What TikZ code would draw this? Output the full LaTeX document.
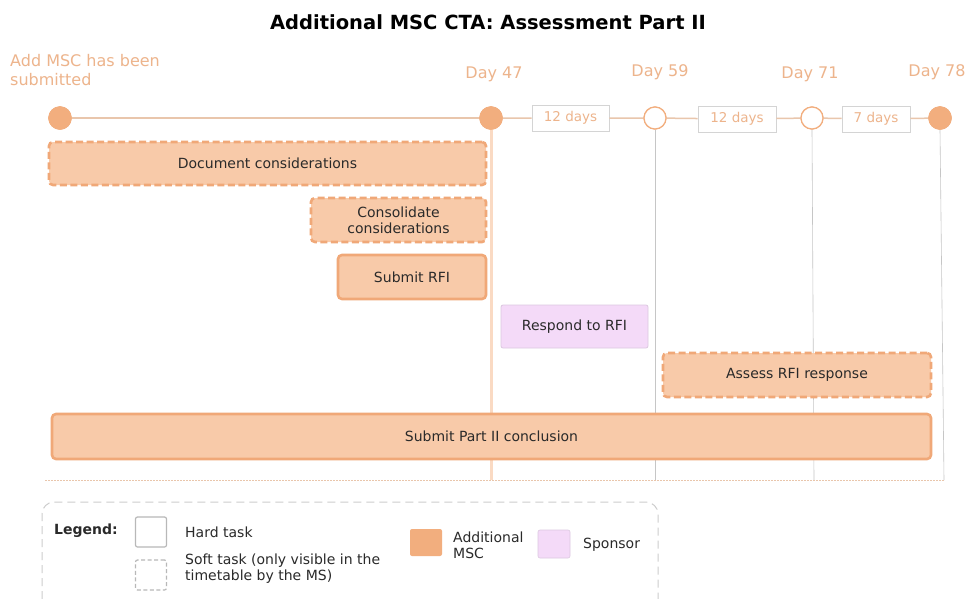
\documentclass[tikz,border=0pt]{standalone}
\usepackage{fontspec}
\setmainfont{DejaVu Sans}
\usetikzlibrary{positioning}
\definecolor{orT}{HTML}{EDB48C}
\definecolor{orF}{HTML}{F8CAA9}
\definecolor{orB}{HTML}{F0A878}
\definecolor{orD}{HTML}{F2AE7E}
\definecolor{tl}{HTML}{E9C6AC}
\definecolor{pkF}{HTML}{F4DAF8}
\definecolor{pkB}{HTML}{DCC8E0}
\definecolor{gr}{HTML}{B8B8B8}
\definecolor{txt}{HTML}{2A2A2A}
\tikzset{
  x=1pt,y=-1pt,
  task/.style={draw=orB,fill=orF,line width=2.6pt,rounded corners=4pt,inner sep=0pt,text=txt,font=\fontsize{14}{16}\selectfont,align=center},
  soft/.style={task,dash pattern=on 7pt off 3.5pt},
  milef/.style={circle,fill=orD,draw=orD,minimum size=23pt,inner sep=0pt},
  mileo/.style={circle,fill=white,draw=orD,line width=1.2pt,minimum size=22pt,inner sep=0pt},
  daybox/.style={draw=gr!60,line width=0.6pt,fill=white,text=orT,font=\fontsize{13.5}{15}\selectfont,minimum height=26pt,inner sep=0pt},
  daylbl/.style={text=orT,font=\fontsize{16}{18}\selectfont,inner sep=0pt},
  leg/.style={text=txt,font=\fontsize{14}{16}\selectfont,inner sep=0pt,align=left},
}
\begin{document}
\begin{tikzpicture}
\useasboundingbox[fill=white] (0,0) rectangle (967,598);
% title
\node[font=\bfseries\fontsize{19.5}{22}\selectfont,inner sep=0pt] (title) at (488,22) {Additional MSC CTA: Assessment Part II};
% start label
\node[daylbl,anchor=north west,align=left,font=\fontsize{16}{19}\selectfont] (startlbl) at (10,54) {Add MSC has been\\submitted};
% milestones
\node[milef] (m0) at (60,118) {};
\node[milef] (m47) at (491,118) {};
\node[mileo] (m59) at (655,118) {};
\node[mileo] (m71) at (812,118) {};
\node[milef] (m78) at (940,118) {};
\node[daylbl] (l47) at (494,74) {Day 47};
\node[daylbl] (l59) at (660,72) {Day 59};
\node[daylbl] (l71) at (810,74) {Day 71};
\node[daylbl] (l78) at (937,72) {Day 78};
\node[daybox,minimum width=77pt] (b1) at (570.5,118) {12 days};
\node[daybox,minimum width=78pt] (b2) at (737,119) {12 days};
\node[daybox,minimum width=68pt] (b3) at (876,119) {7 days};
% vertical guide lines
\coordinate (v47) at (491,480);
\coordinate (v59) at (655,480);
\coordinate (v71) at (814,480);
\coordinate (v78) at (944,480);
\draw[draw=orF!70,line width=3pt] (m47.south) -- (v47);
\draw[draw=gr!80,line width=0.6pt] (m59.south) -- (v59);
\draw[draw=gr!80,line width=0.6pt] (m71.south) -- (v71);
\draw[draw=gr!80,line width=0.6pt] (m78.south) -- (v78);
% timeline
\draw[tl,line width=1.5pt] (m0) -- (m47);
\draw[tl,line width=1.5pt] (m47) -- (b1) (b1) -- (m59) (m59) -- (b2) (b2) -- (m71) (m71) -- (b3) (b3) -- (m78);
\node[milef] at (m0) {};
\node[milef] at (m47) {};
\node[mileo] at (m59) {};
\node[mileo] at (m71) {};
\node[milef] at (m78) {};
% bottom dotted line
\coordinate (bl) at (45,480);
\coordinate (br) at (945,480);
\draw[draw=tl,line width=0.8pt,dash pattern=on 1.5pt off 1.5pt] (bl) -- (br);
% tasks
\node[soft,minimum width=437pt,minimum height=43pt] (doc) at (267.5,163.5) {Document considerations};
\node[soft,minimum width=175pt,minimum height=44pt] (cons) at (398.5,220) {Consolidate\\considerations};
\node[task,minimum width=148pt,minimum height=44pt] (rfi) at (412,277) {Submit RFI};
\node[task,draw=pkB,fill=pkF,line width=0.8pt,rounded corners=2pt,minimum width=147pt,minimum height=43pt] (resp) at (574.5,326.5) {Respond to RFI};
\node[soft,minimum width=268pt,minimum height=44pt] (assess) at (797,375) {Assess RFI response};
\node[task,minimum width=879pt,minimum height=45pt] (concl) at (491.5,436.5) {Submit Part II conclusion};
% legend
\draw[draw=gr!70,line width=1pt,dash pattern=on 8pt off 5pt,rounded corners=12pt] (42,612) -- (42,502) -- (658,502) -- (658,612);
\node[leg,font=\bfseries\fontsize{14}{16}\selectfont,anchor=west] (legl) at (54,531) {Legend:};
\node[draw=gr,line width=1.2pt,rounded corners=2pt,minimum width=31pt,minimum height=30pt,inner sep=0pt] (hard) at (151,532) {};
\node[leg,anchor=west] (hardt) at (185,532) {Hard task};
\node[draw=gr,line width=1.2pt,dash pattern=on 4pt off 2.5pt,rounded corners=2pt,minimum width=31pt,minimum height=30pt,inner sep=0pt] (softb) at (151,575) {};
\node[leg,anchor=west] (softt) at (185,569) {Soft task (only visible in the\\timetable by the MS)};
\node[fill=orD,rounded corners=2pt,minimum width=32pt,minimum height=27pt,inner sep=0pt] (addb) at (426,542.5) {};
\node[leg,anchor=west] (addt) at (453,545) {Additional\\MSC};
\node[fill=pkF,draw=pkB,line width=0.6pt,rounded corners=2pt,minimum width=32pt,minimum height=28pt,inner sep=0pt] (spb) at (554,544) {};
\node[leg,anchor=west] (spt) at (583,545) {Sponsor};
\end{tikzpicture}
\end{document}
